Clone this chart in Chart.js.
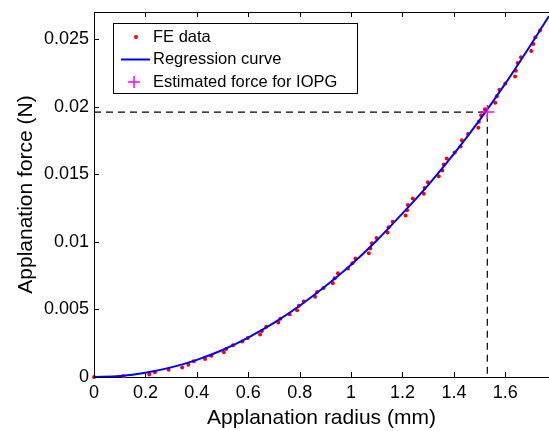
<!DOCTYPE html>
<html>
<head>
<meta charset="utf-8">
<script src="https://cdn.jsdelivr.net/npm/chart.js@4/dist/chart.umd.min.js"></script>
<style>
  html, body { margin: 0; padding: 0; background: #fff; }
  #wrap { width: 549px; height: 431px; }
</style>
</head>
<body>
<div id="wrap"><canvas id="forceChart"></canvas></div>
<script>
// FE data (radius in mm, force in N)
const feRadius = [0, 0.114, 0.215, 0.237, 0.290, 0.343, 0.367, 0.388, 0.432, 0.456,
    0.505, 0.514, 0.541, 0.577, 0.598, 0.646, 0.653, 0.670, 0.717, 0.725,
    0.761, 0.790, 0.797, 0.816, 0.860, 0.868, 0.893, 0.929, 0.936, 0.949,
    0.988, 1.005, 1.017, 1.069, 1.075, 1.081, 1.099, 1.142, 1.146, 1.162,
    1.212, 1.218, 1.221, 1.240, 1.283, 1.286, 1.299, 1.341, 1.355, 1.361,
    1.372, 1.403, 1.426, 1.431, 1.455, 1.495, 1.497, 1.506, 1.521, 1.561,
    1.567, 1.577, 1.600, 1.638, 1.641, 1.648, 1.661, 1.701, 1.709, 1.717, 1.735];
const feForce = [0, 0.00005, 0.00018, 0.00035, 0.00053, 0.0007, 0.0009, 0.00116, 0.00134, 0.00158,
    0.00184, 0.00207, 0.00234, 0.00262, 0.00288, 0.00315, 0.00341, 0.00371, 0.00403, 0.0043,
    0.00464, 0.00494, 0.00527, 0.00558, 0.00594, 0.00629, 0.00659, 0.00694, 0.00731, 0.00768,
    0.00802, 0.00842, 0.00877, 0.00915, 0.00951, 0.0099, 0.01029, 0.01068, 0.01108, 0.01148,
    0.01194, 0.01233, 0.01273, 0.0132, 0.01356, 0.01398, 0.01441, 0.01485, 0.01527, 0.01571,
    0.01616, 0.0166, 0.01705, 0.01752, 0.01797, 0.01844, 0.01889, 0.01937, 0.01981, 0.02029,
    0.02076, 0.02124, 0.02171, 0.02223, 0.02266, 0.02322, 0.02366, 0.02412, 0.02464, 0.02514, 0.02563];

// regression curve, sampled off the figure
const curveRadius = [0, 0.1, 0.2, 0.3, 0.4, 0.5, 0.6, 0.7, 0.8, 0.9, 1.0,
    1.1, 1.2, 1.3, 1.4, 1.5, 1.6, 1.7, 1.77];
const curveForce = [0, 0.00007, 0.00031, 0.00071, 0.00127, 0.002, 0.00292, 0.004, 0.00527, 0.00671, 0.0083,
    0.0101, 0.0121, 0.0142, 0.0165, 0.019, 0.0217, 0.0246, 0.0267];

// estimated force for IOPG
const iopgRadius = [1.53];
const iopgForce = [0.0196];

const xTicks = [0, 0.2, 0.4, 0.6, 0.8, 1, 1.2, 1.4, 1.6];
const yTicks = [0, 0.005, 0.01, 0.015, 0.02, 0.025];

const FONT = "'Liberation Sans', Arial, Helvetica, sans-serif";

const toPoints = (xs, ys) => xs.map((x, i) => ({ x, y: ys[i] }));

// MATLAB style box: top border + inward ticks
const framePlugin = {
    id: "frame",
    afterDraw(chart) {
        const { ctx, chartArea: a, scales } = chart;
        ctx.save();
        ctx.strokeStyle = "#000";
        ctx.lineWidth = 1;
        ctx.beginPath();
        ctx.moveTo(a.left, a.top + 0.5);
        ctx.lineTo(a.right, a.top + 0.5);
        xTicks.forEach((v) => {
            const px = Math.round(scales.x.getPixelForValue(v)) + 0.5;
            ctx.moveTo(px, a.bottom);
            ctx.lineTo(px, a.bottom - 5);
            ctx.moveTo(px, a.top);
            ctx.lineTo(px, a.top + 5);
        });
        yTicks.forEach((v) => {
            const py = Math.round(scales.y.getPixelForValue(v)) + 0.5;
            ctx.moveTo(a.left, py);
            ctx.lineTo(a.left + 5, py);
        });
        ctx.stroke();
        ctx.restore();
    },
};

// legend box inside the axes, upper left
const legendPlugin = {
    id: "boxLegend",
    afterDraw(chart) {
        const { ctx } = chart;
        const bx = 113.5, by = 23.5, bw = 244, bh = 70;
        ctx.save();
        ctx.fillStyle = "#fff";
        ctx.fillRect(bx, by, bw, bh);
        ctx.strokeStyle = "#000";
        ctx.lineWidth = 1;
        ctx.strokeRect(bx, by, bw, bh);

        const rows = [37, 59.5, 82];
        const labels = ["FE data", "Regression curve", "Estimated force for IOPG"];
        ctx.font = "16.5px " + FONT;
        ctx.fillStyle = "#000";
        ctx.textBaseline = "middle";
        labels.forEach((t, i) => ctx.fillText(t, 153, rows[i]));

        // red dot
        ctx.fillStyle = "#ff0000";
        ctx.beginPath();
        ctx.arc(136, rows[0], 2, 0, Math.PI * 2);
        ctx.fill();
        // blue line
        ctx.strokeStyle = "#0000ff";
        ctx.lineWidth = 2;
        ctx.beginPath();
        ctx.moveTo(121, rows[1]);
        ctx.lineTo(150, rows[1]);
        ctx.stroke();
        // magenta plus
        ctx.strokeStyle = "#ff00ff";
        ctx.lineWidth = 1.5;
        ctx.beginPath();
        ctx.moveTo(128, rows[2]);
        ctx.lineTo(140, rows[2]);
        ctx.moveTo(134, rows[2] - 6);
        ctx.lineTo(134, rows[2] + 6);
        ctx.stroke();
        ctx.restore();
    },
};

new Chart(document.getElementById("forceChart").getContext("2d"), {
    type: "scatter",
    data: {
        datasets: [
            {
                label: "Estimated force for IOPG",
                data: toPoints(iopgRadius, iopgForce),
                pointStyle: "cross",
                pointRadius: 7,
                borderColor: "#ff00ff",
                pointBorderWidth: 1.5,
                clip: false,
            },
            {
                label: "Regression curve",
                type: "line",
                data: toPoints(curveRadius, curveForce),
                borderColor: "#0000ff",
                borderWidth: 2,
                pointRadius: 0,
                cubicInterpolationMode: "monotone",
                fill: false,
            },
            {
                label: "FE data",
                data: toPoints(feRadius, feForce),
                backgroundColor: "#ff0000",
                borderColor: "#ff0000",
                pointRadius: 2,
                pointBorderWidth: 0,
                clip: false,
            },
            {
                label: "guide",
                type: "line",
                data: [
                    { x: 0, y: iopgForce[0] },
                    { x: iopgRadius[0], y: iopgForce[0] },
                    { x: iopgRadius[0], y: 0 },
                ],
                borderColor: "#000",
                borderWidth: 1.2,
                borderDash: [7, 5],
                pointRadius: 0,
                fill: false,
                tension: 0,
            },
        ],
    },
    options: {
        responsive: true,
        maintainAspectRatio: false,
        animation: false,
        layout: { autoPadding: false, padding: { left: 14, top: 12, right: 0, bottom: 0 } },
        plugins: {
            legend: { display: false },
            tooltip: { enabled: false },
        },
        scales: {
            x: {
                type: "linear",
                min: 0,
                max: 1.77,
                afterBuildTicks: (s) => { s.ticks = xTicks.map((v) => ({ value: v })); },
                afterFit: (s) => { s.height = 54; s.paddingLeft = 0; s.paddingRight = 0; },
                grid: { drawOnChartArea: false, drawTicks: false },
                border: { display: true, color: "#000", width: 1 },
                ticks: {
                    color: "#000",
                    padding: 5,
                    maxRotation: 0,
                    font: { family: FONT, size: 18 },
                    callback: (v) => String(v),
                },
                title: {
                    display: true,
                    text: "Applanation radius (mm)",
                    color: "#000",
                    padding: { top: 0, bottom: 0 },
                    font: { family: FONT, size: 21 },
                },
            },
            y: {
                type: "linear",
                min: 0,
                max: 0.027,
                afterBuildTicks: (s) => { s.ticks = yTicks.map((v) => ({ value: v })); },
                afterFit: (s) => { s.width = 80; s.paddingTop = 0; s.paddingBottom = 0; },
                grid: { drawOnChartArea: false, drawTicks: false },
                border: { display: true, color: "#000", width: 1 },
                ticks: {
                    color: "#000",
                    padding: 5,
                    font: { family: FONT, size: 18 },
                    callback: (v) => String(v),
                },
                title: {
                    display: true,
                    text: "Applanation force (N)",
                    color: "#000",
                    padding: { top: 0, bottom: 0 },
                    font: { family: FONT, size: 21 },
                },
            },
        },
    },
    plugins: [framePlugin, legendPlugin],
});
</script>
</body>
</html>
